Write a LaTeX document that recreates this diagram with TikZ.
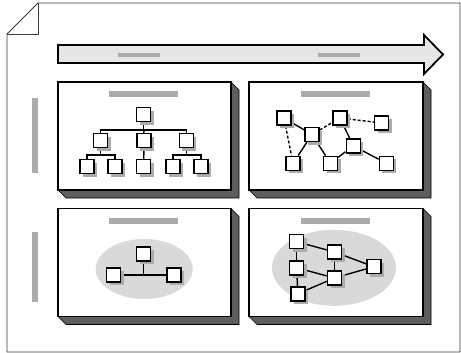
\documentclass[tikz,border=0pt]{standalone}
\usetikzlibrary{calc}
\definecolor{barg}{HTML}{ABABAB}
\definecolor{sideg}{HTML}{5E5E5E}
\definecolor{ellg}{HTML}{D9D9D9}
\definecolor{arrg}{HTML}{E6E6E6}
\definecolor{sqsh}{HTML}{ABABAB}
\definecolor{frameg}{HTML}{3A3A3A}
\pgfdeclarelayer{back}
\pgfdeclarelayer{panel}
\pgfdeclarelayer{mid}
\pgfsetlayers{back,panel,mid,main}
\begin{document}
\begin{tikzpicture}[x=1pt,y=-1pt,
  panel/.style={draw=black, fill=white, line width=1.8pt, inner sep=0, outer sep=0, minimum width=173pt, minimum height=108pt},
  side/.style={fill=sideg, draw=black, line width=0.7pt, line join=miter},
  hbar/.style={fill=barg, draw=none, inner sep=0, minimum width=69pt, minimum height=6pt},
  abar/.style={fill=barg, draw=none, inner sep=0, minimum width=42pt, minimum height=4.5pt},
  vbar/.style={fill=barg, draw=none, inner sep=0, minimum width=6pt},
  sq/.style={draw=black, fill=white, line width=1.5pt, minimum size=14pt, inner sep=0,
    preaction={fill=sqsh, draw=none, transform canvas={xshift=3pt, yshift=-3pt}}},
  edge/.style={draw=black, line width=1.4pt},
  dedge/.style={edge, dash pattern=on 3pt off 2pt}]
\useasboundingbox (0,0) rectangle (461,353);
% outer page frame
\draw[frameg, line width=0.8pt, line join=miter] (38,3) -- (460,3) -- (460,352) -- (7,352) -- (7,34) -- cycle;
\draw[frameg, line width=0.8pt] (7,34) -- (38,34) -- (38,3);
% timeline arrow
\draw[fill=arrg, line width=1.8pt, line join=miter] (58,45) -- (424,45) -- (424,35) -- (443,54.5) -- (424,74) -- (424,63) -- (58,63) -- cycle;
\node[abar] (a1) at (139,54.8) {};
\node[abar] (a2) at (338.5,54.8) {};
% row bars
\node[vbar, minimum height=75pt] (v1) at (35,135.5) {};
\node[vbar, minimum height=70pt] (v2) at (35,267) {};
% panels
\begin{pgfonlayer}{panel}
\node[panel] (p1) at (144.5,136) {};
\node[panel, minimum width=174pt] (p2) at (336,136) {};
\node[panel] (p3) at (144.5,262.5) {};
\node[panel, minimum width=174pt] (p4) at (336,262.5) {};
\fill[ellg] (144.2,269) ellipse [x radius=48.5, y radius=30];
\fill[ellg] (334,267.8) ellipse [x radius=62, y radius=38];
\end{pgfonlayer}
\begin{pgfonlayer}{back}
\foreach \p in {p1,p2,p3,p4}{
  \filldraw[side] (\p.north east) -- ($(\p.north east)+(8,8)$) -- ($(\p.south east)+(8,8)$)
     -- ($(\p.south west)+(8,8)$) -- (\p.south west) -- (\p.south east) -- cycle;
}
\end{pgfonlayer}
% header bars
\node[hbar] (h1) at (143.5,94) {};
\node[hbar] (h2) at (335.5,94) {};
\node[hbar] (h3) at (143.5,220.5) {};
\node[hbar] (h4) at (335.5,220.5) {};
% ---- panel 1: hierarchy
\node[sq] (r) at (143.7,114.7) {};
\node[sq] (m1) at (100.5,140.5) {};
\node[sq] (m2) at (144,140.5) {};
\node[sq] (m3) at (186.3,140.5) {};
\node[sq] (l1) at (87,166.7) {};
\node[sq] (l2) at (115,166.7) {};
\node[sq] (l3) at (143.7,166.7) {};
\node[sq] (l4) at (173,166.7) {};
\node[sq] (l5) at (201,166.7) {};
\begin{pgfonlayer}{mid}
\draw[edge] (r.south) -- ++(0,7.6) coordinate (j0);
\draw[edge] (m1.north) |- (j0) -| (m3.north);
\draw[edge] (j0) -- (m2.north);
\draw[edge] (m1.south) -- ++(0,6.6) coordinate (j1);
\draw[edge] (l1.north) |- (j1) -| (l2.north);
\draw[edge] (m2.south) -- (l3.north);
\draw[edge] (m3.south) -- ++(0,6.6) coordinate (j3);
\draw[edge] (l4.north) |- (j3) -| (l5.north);
\end{pgfonlayer}
% ---- panel 2: network
\node[sq] (A) at (284,118) {};
\node[sq] (B) at (312,134.5) {};
\node[sq] (C) at (340,118) {};
\node[sq] (D) at (381.7,123) {};
\node[sq] (E) at (353.3,145.8) {};
\node[sq] (F) at (293,163.3) {};
\node[sq] (G) at (330.5,163.3) {};
\node[sq] (H) at (386.3,163.3) {};
\begin{pgfonlayer}{mid}
\draw[edge] (A) -- (B);
\draw[dedge] (A) -- (F);
\draw[dedge] (B) -- (C);
\draw[edge] (B) -- (F);
\draw[edge] (B) -- (G);
\draw[dedge] (C) -- (D);
\draw[edge] (C) -- (E);
\draw[edge] (E) -- (G);
\draw[edge] (E) -- (H);
\end{pgfonlayer}
% ---- panel 3: star
\node[sq] (T) at (143.5,253.8) {};
\node[sq] (L) at (113.5,274.8) {};
\node[sq] (R) at (174.2,274.8) {};
\begin{pgfonlayer}{mid}
\draw[edge] (L) -- (R);
\draw[edge] (T) -- (T |- L);
\end{pgfonlayer}
% ---- panel 4: flow
\node[sq] (P1) at (296.7,241.7) {};
\node[sq] (P2) at (296.7,267.8) {};
\node[sq] (P3) at (297.8,293.8) {};
\node[sq] (Q1) at (334.5,252) {};
\node[sq] (Q2) at (334.5,278) {};
\node[sq] (S) at (373.8,266.7) {};
\begin{pgfonlayer}{mid}
\draw[edge] (P1) -- (P2);
\draw[edge] (P2) -- (P3);
\draw[edge] (P1) -- (Q1);
\draw[edge] (P2) -- (Q2);
\draw[edge] (P3) -- (Q2);
\draw[edge] (Q1) -- (Q2);
\draw[edge] (Q1) -- (S);
\draw[edge] (Q2) -- (S);
\end{pgfonlayer}
\end{tikzpicture}
\end{document}
